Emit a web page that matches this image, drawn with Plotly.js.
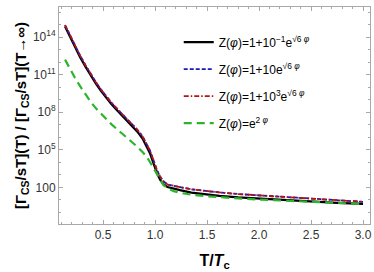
<!DOCTYPE html>
<html><head><meta charset="utf-8">
<script src="https://cdn.plot.ly/plotly-3.0.1.min.js"></script>
<style>html,body{margin:0;padding:0;background:#fff}#chart{width:374px;height:272px}</style>
</head><body><div id="chart"></div>
<script>
const T = [0.135,0.18,0.23,0.28,0.33,0.38,0.43,0.48,0.53,0.58,0.63,0.68,0.73,0.78,0.83,0.88,0.92,0.95,0.98,1.0,1.02,1.05,1.08,1.12,1.18,1.24,1.35,1.5,1.62,1.8,2.0,2.25,2.5,2.75,3.0];
const logBlack = [14.84,14.05,13.23,12.4,11.65,10.95,10.3,9.7,9.15,8.65,8.2,7.78,7.37,6.92,6.45,5.9,5.3,4.75,4.05,3.55,3.1,2.6,2.27,2.03,1.88,1.78,1.58,1.42,1.32,1.2,1.1,0.98,0.87,0.77,0.68];
const logBlue  = [14.96,14.17,13.35,12.52,11.77,11.07,10.42,9.82,9.27,8.77,8.32,7.9,7.49,7.05,6.6,6.08,5.5,4.97,4.3,3.8,3.35,2.85,2.5,2.23,2.1,2.03,1.85,1.7,1.6,1.47,1.36,1.22,1.09,0.97,0.85];
const logRed   = [14.96,14.17,13.35,12.52,11.77,11.07,10.42,9.82,9.27,8.77,8.32,7.9,7.49,7.05,6.6,6.08,5.5,4.97,4.3,3.8,3.35,2.85,2.5,2.23,2.1,2.03,1.85,1.7,1.6,1.47,1.36,1.22,1.09,0.97,0.85];
const logGreen = [12.2,11.45,10.75,10.08,9.45,8.85,8.33,7.88,7.45,7.05,6.68,6.33,5.98,5.62,5.25,4.82,4.45,4.05,3.62,3.35,3.05,2.6,2.2,1.92,1.7,1.57,1.42,1.3,1.22,1.12,1.03,0.93,0.84,0.76,0.68];
const names = [
  "Z(<i>φ</i>)=1+10<sup>−1</sup>e<sup>√6 <i>φ</i></sup>",
  "Z(<i>φ</i>)=1+10e<sup>√6 <i>φ</i></sup>",
  "Z(<i>φ</i>)=1+10<sup>3</sup>e<sup>√6 <i>φ</i></sup>",
  "Z(<i>φ</i>)=e<sup>2 <i>φ</i></sup>"
];
const yTickVals = [1e2,1e5,1e8,1e11,1e14];
const yTickText = ["100","10<sup>5</sup>","10<sup>8</sup>","10<sup>11</sup>","10<sup>14</sup>"];
const yMinor = [1,10,1e3,1e4,1e6,1e7,1e9,1e10,1e12,1e13,1e15,1e16];
const xTickVals = [0.5,1.0,1.5,2.0,2.5,3.0];
const xTickText = ["0.5","1.0","1.5","2.0","2.5","3.0"];

const pw = v => v.map(l => Math.pow(10, l));
const series = [logBlack, logBlue, logRed, logGreen];
const colors = ["#000000", "#1a1ab8", "#b41414", "#2db42d"];
const dashes = ["solid", "4px,2px", "5px,2px,1.5px,2px", "8px,5px"];
const widths = [2.2, 1.8, 1.8, 2.2];
const traces = series.map((s,i) => ({
  x: T, y: pw(s), type: "scatter", mode: "lines", name: names[i], legendgroup: "g" + i,
  line: {color: colors[i], dash: dashes[i], width: widths[i], shape: "linear"}
}));
const axisCommon = {
  showline: true, linecolor: "#a8a8a8", linewidth: 1, mirror: "allticks",
  ticks: "inside", ticklen: 4, tickcolor: "#a8a8a8", showgrid: false, zeroline: false,
  tickfont: {family: "Liberation Sans, Arial, sans-serif", size: 12, color: "#333"}
};
const layout = {
  width: 374, height: 272,
  margin: {l: 59, r: 4, t: 7, b: 48},
  paper_bgcolor: "#fff", plot_bgcolor: "#fff",
  showlegend: true,
  legend: {x: 0.385, y: 0.905, xanchor: "left", yanchor: "top", bgcolor: "rgba(255,255,255,0)",
    font: {family: "Liberation Sans, Arial, sans-serif", size: 12, color: "#000"}, tracegroupgap: 8},
  xaxis: Object.assign({}, axisCommon, {
    range: [0.077, 3.067], tickmode: "array", tickvals: xTickVals, ticktext: xTickText,
    minor: {tickmode: "linear", tick0: 0, dtick: 0.1, ticks: "inside", ticklen: 2, tickcolor: "#a8a8a8"},
    title: {text: "<b>T/<i>T</i><sub>c</sub></b>", standoff: 13,
      font: {family: "Liberation Sans, Arial, sans-serif", size: 16, color: "#000"}}
  }),
  yaxis: Object.assign({}, axisCommon, {
    type: "log", range: [-0.92, 16.4], tickmode: "array", tickvals: yTickVals, ticktext: yTickText,
    minor: {tickmode: "array", tickvals: yMinor, ticks: "inside", ticklen: 2, tickcolor: "#a8a8a8"},
    title: {text: "<b>[Γ<sub>CS</sub>/sT](T) / [Γ<sub>CS</sub>/sT](T→∞)</b>", standoff: 2,
      font: {family: "Liberation Sans, Arial, sans-serif", size: 15, color: "#000"}}
  })
};
Plotly.newPlot("chart", traces, layout, {displayModeBar: false, staticPlot: true});
</script></body></html>
